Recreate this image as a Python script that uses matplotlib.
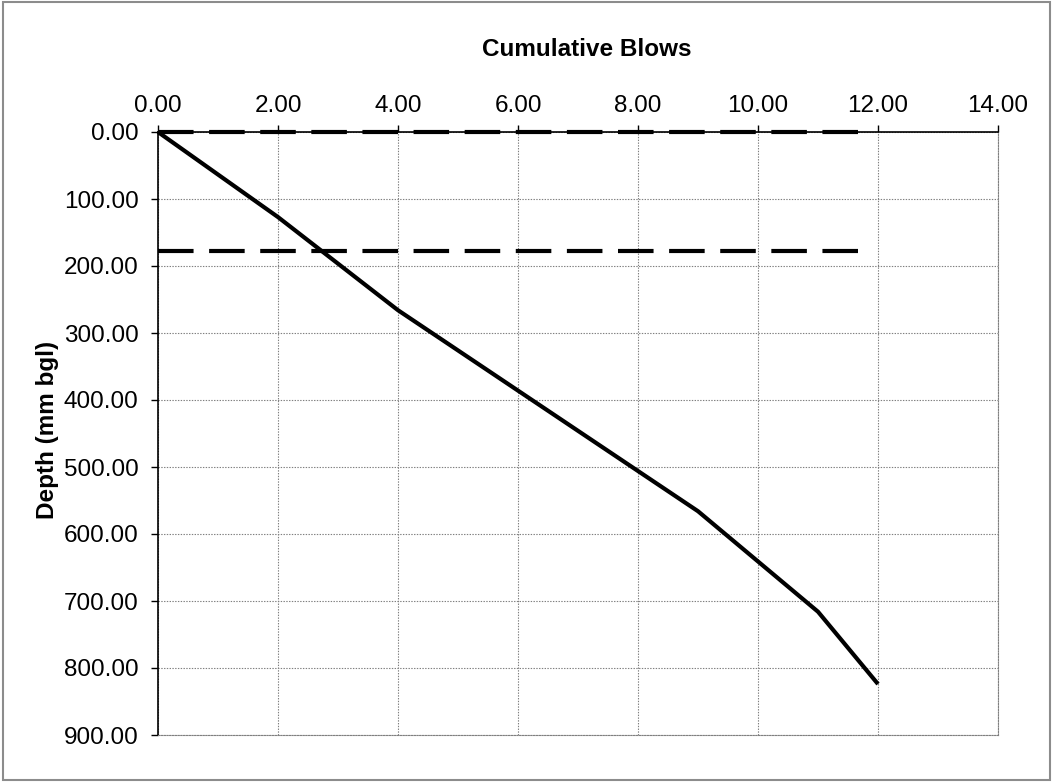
import matplotlib
matplotlib.use("Agg")
import matplotlib.pyplot as plt
from matplotlib.patches import Rectangle
from matplotlib.ticker import FormatStrFormatter

plt.rcParams['font.family'] = ['Liberation Sans', 'DejaVu Sans']
plt.rcParams['lines.scale_dashes'] = False

# Data
blows = [0, 2, 4, 9, 11, 12]
depth_mm = [0, 127, 266, 566, 716, 824]
layer_depths = [0, 178]
layer_x = [0, 11.8]

x_ticks = [0, 2, 4, 6, 8, 10, 12, 14]
y_ticks = [0, 100, 200, 300, 400, 500, 600, 700, 800, 900]

W, H = 1054, 782
fig = plt.figure(figsize=(W / 100, H / 100), dpi=100)
ax = fig.add_axes([158 / W, 1 - 735 / H, (998 - 158) / W, (735 - 132) / H])

ax.set_xlim(0, 14)
ax.set_ylim(900, 0)
ax.set_xticks(x_ticks)
ax.set_yticks(y_ticks)
ax.xaxis.set_major_formatter(FormatStrFormatter('%.2f'))
ax.yaxis.set_major_formatter(FormatStrFormatter('%.2f'))
ax.xaxis.tick_top()

ax.grid(True, color='#808080', linestyle=(0, (1, 1)), linewidth=0.8)
ax.set_axisbelow(True)

for side in ['right', 'bottom']:
    ax.spines[side].set_color('#808080')
    ax.spines[side].set_linestyle((0, (1, 1)))
    ax.spines[side].set_linewidth(0.8)
for side in ['left', 'top']:
    ax.spines[side].set_color('black')
    ax.spines[side].set_linewidth(1.2)

ax.tick_params(axis='x', which='major', direction='out', length=5, width=1,
               labelsize=17.5, pad=6, top=True, bottom=False, colors='black')
ax.tick_params(axis='y', which='major', direction='out', length=5, width=1,
               labelsize=17.5, pad=9, colors='black')

for d in layer_depths:
    ax.plot(layer_x, [d, d], color='black', linewidth=3,
            dashes=(25.6, 11.2), dash_capstyle='butt', clip_on=False, zorder=3)

ax.plot(blows, depth_mm, color='black', linewidth=3, solid_joinstyle='round',
        solid_capstyle='butt', clip_on=False, zorder=4)

fig.text(587 / W, 1 - 50 / H, 'Cumulative Blows', ha='center', va='center',
         fontsize=17.5, fontweight='bold')
fig.text(48 / W, 1 - 430 / H, 'Depth (mm bgl)', ha='center', va='center',
         rotation=90, fontsize=17.5, fontweight='bold')

fig.patches.append(Rectangle((3 / W, 2 / H), (1050 - 3) / W, (780 - 2) / H,
                             transform=fig.transFigure, fill=False,
                             edgecolor='#8c8c8c', linewidth=1.5))

fig.savefig('out.png', dpi=100)
